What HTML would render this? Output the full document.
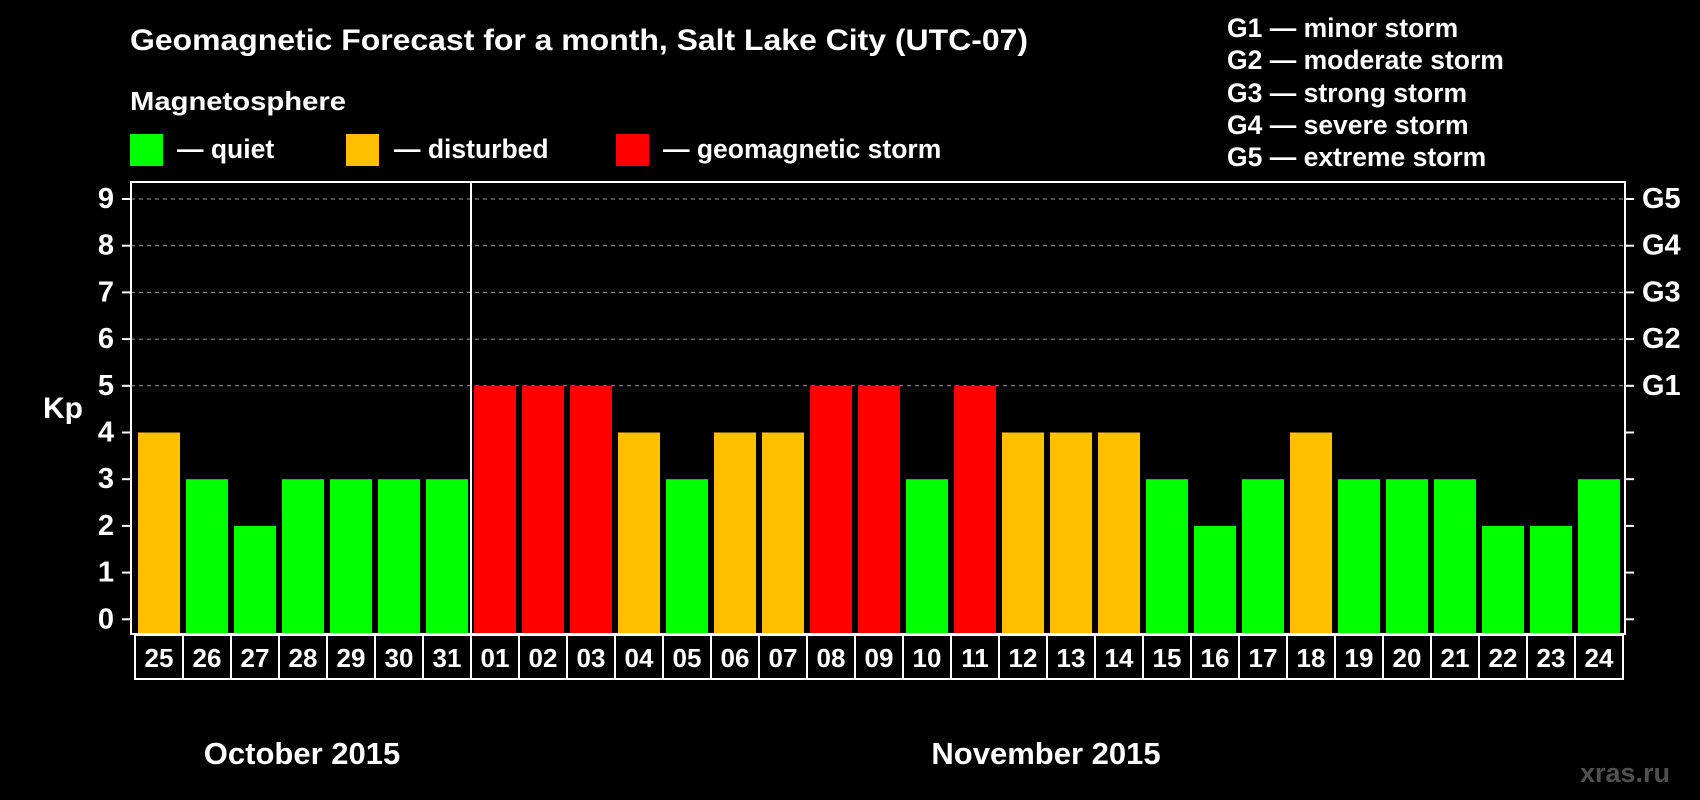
<!DOCTYPE html>
<html><head><meta charset="utf-8"><style>
html,body{margin:0;padding:0;background:#000;}
svg{display:block;font-family:"Liberation Sans",Arial,sans-serif;font-weight:bold;}
</style></head><body>
<svg id="c" width="1700" height="800" viewBox="0 0 1700 800">
<text x="130" y="50" font-size="30" fill="#fff" textLength="898" lengthAdjust="spacingAndGlyphs">Geomagnetic Forecast for a month, Salt Lake City (UTC-07)</text>
<text x="130" y="110" font-size="26" fill="#fff" textLength="216" lengthAdjust="spacingAndGlyphs">Magnetosphere</text>
<rect x="130" y="134" width="33" height="32" fill="#00ff00"/>
<text x="177" y="158" font-size="26.5" fill="#fff">— quiet</text>
<rect x="346" y="134" width="33" height="32" fill="#ffc000"/>
<text x="394" y="158" font-size="26.5" fill="#fff">— disturbed</text>
<rect x="616" y="134" width="33" height="32" fill="#ff0000"/>
<text x="663" y="158" font-size="26.5" fill="#fff">— geomagnetic storm</text>
<g font-size="26.5" fill="#fff">
<text x="1227" y="37">G1 — minor storm</text>
<text x="1227" y="69">G2 — moderate storm</text>
<text x="1227" y="102">G3 — strong storm</text>
<text x="1227" y="134">G4 — severe storm</text>
<text x="1227" y="166">G5 — extreme storm</text>
</g>
<text x="63" y="410" font-size="30" fill="#fff" text-anchor="middle" dominant-baseline="middle">Kp</text>
<text x="302" y="764" font-size="31" fill="#fff" text-anchor="middle">October 2015</text>
<text x="1046" y="764" font-size="31" fill="#fff" text-anchor="middle">November 2015</text>
<text x="1670" y="782" font-size="27" fill="#505050" text-anchor="end">xras.ru</text>
<g id="grid"></g><g id="bars"></g><g id="labels"></g>
<rect x="131" y="182" width="1494" height="452" fill="none" stroke="#fff" stroke-width="2"/>
<line x1="471" y1="182" x2="471" y2="679" stroke="#fff" stroke-width="2"/>
</svg>
<script>
const days=["25","26","27","28","29","30","31","01","02","03","04","05","06","07","08","09","10","11","12","13","14","15","16","17","18","19","20","21","22","23","24"];
const kp=[4,3,2,3,3,3,3,5,5,5,4,3,4,4,5,5,3,5,4,4,4,3,2,3,4,3,3,3,2,2,3];
const yTicks=[0,1,2,3,4,5,6,7,8,9];
const gTicks=["","","","","","G1","G2","G3","G4","G5"];
const NS="http://www.w3.org/2000/svg";
const y=v=>619.3-v*46.7;
const x=i=>135+i*48;
function mk(t,a,p){const e=document.createElementNS(NS,t);for(const k in a)e.setAttribute(k,a[k]);p.appendChild(e);return e;}
const grid=document.getElementById('grid'),bars=document.getElementById('bars'),labels=document.getElementById('labels');
yTicks.forEach((v,i)=>{
  if(v>=5){const l=mk('line',{x1:131,x2:1625,y1:y(v),y2:y(v),stroke:'#999','stroke-dasharray':'4,4','stroke-width':1},grid);
  
  }
  mk('line',{x1:122,x2:131,y1:y(v),y2:y(v),stroke:'#fff','stroke-width':2},grid);
  mk('line',{x1:1625,x2:1634,y1:y(v),y2:y(v),stroke:'#fff','stroke-width':2},grid);
  const t=mk('text',{x:106,y:y(v),'font-size':29,fill:'#fff','text-anchor':'middle','dominant-baseline':'central'},grid);
  t.textContent=v;
  
  
  if(gTicks[i]){const g=mk('text',{x:1642,y:y(v),'font-size':29,fill:'#fff','dominant-baseline':'central'},grid);
  g.textContent=gTicks[i];
  
  }
});
kp.forEach((v,i)=>{
  const c=v>=5?'#ff0000':v>=4?'#ffc000':'#00ff00';
  const b=mk('rect',{x:x(i)+3,y:y(v),width:42,height:633.5-y(v),fill:c},bars);
  
  
  const r=mk('rect',{x:x(i),y:635,width:48,height:44,fill:'none',stroke:'#fff','stroke-width':2},labels);
  
  
  const t=mk('text',{x:x(i)+24,y:658,'font-size':26,fill:'#fff','text-anchor':'middle','dominant-baseline':'central'},labels);
  t.textContent=days[i];
  
  
});
</script>
</body></html>
